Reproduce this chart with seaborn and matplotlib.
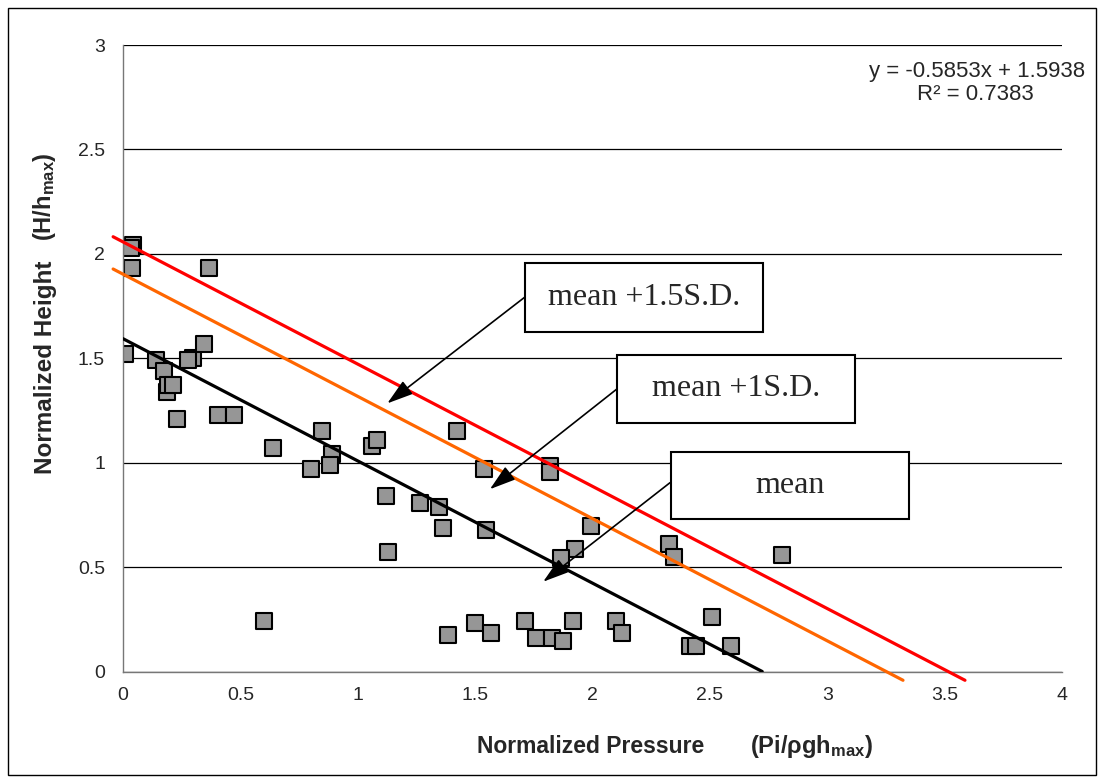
import numpy as np
import pandas as pd
import matplotlib
matplotlib.use("Agg")
import matplotlib.pyplot as plt
from matplotlib.patches import Rectangle
import seaborn as sns

# Data
pressure = [0.044, 0.034, 0.040, 0.368, 0.009, 0.139, 0.175, 0.186, 0.192, 0.212,
            0.229, 0.297, 0.278, 0.345, 0.406, 0.474, 0.640, 0.846, 0.889, 0.882,
            0.799, 1.059, 1.080, 1.421, 1.537, 1.819, 1.819, 1.120, 1.265, 1.347,
            1.364, 1.545, 1.127, 1.992, 1.925, 1.864, 1.385, 1.499, 1.567, 1.712,
            1.759, 1.826, 1.873, 1.918, 2.100, 2.124, 2.327, 2.348, 2.808, 2.510,
            2.415, 2.443, 2.592, 0.602]
height = [2.04, 2.03, 1.93, 1.93, 1.52, 1.49, 1.44, 1.34, 1.37, 1.37,
          1.21, 1.50, 1.49, 1.57, 1.23, 1.23, 1.07, 1.15, 1.04, 0.99,
          0.97, 1.08, 1.11, 1.15, 0.97, 0.985, 0.957, 0.84, 0.805, 0.79,
          0.686, 0.678, 0.574, 0.697, 0.585, 0.542, 0.175, 0.234, 0.183, 0.243,
          0.159, 0.159, 0.148, 0.243, 0.243, 0.183, 0.611, 0.550, 0.558, 0.260,
          0.122, 0.122, 0.122, 0.242]

# trendline and offsets
slope = -0.5853
intercept = 1.5938
r_squared = 0.7383
sd = 0.309
sd_factors = [1.0, 1.5]
sd_colors = ["#FF6600", "#FF0000"]

box_labels = ["mean +1.5S.D.", "mean +1S.D.", "mean"]

df = pd.DataFrame({"pressure": pressure, "height": height})

sns.set_style("white")
plt.rcParams["font.family"] = ["Liberation Sans", "DejaVu Sans"]
plt.rcParams["mathtext.fontset"] = "custom"
plt.rcParams["mathtext.rm"] = "Liberation Sans:bold"
plt.rcParams["mathtext.default"] = "rm"

fig, ax = plt.subplots(figsize=(11.02, 7.83), dpi=100)
fig.subplots_adjust(left=0.1116, right=0.9637, bottom=0.1424, top=0.9425)

sns.scatterplot(data=df, x="pressure", y="height", marker="s", s=135,
                color="#969696", edgecolor="black", linewidth=1.5, ax=ax, zorder=2)

# mean line (fit)
x_end = -intercept / slope
ax.plot([0, x_end], [intercept, 0], color="black", lw=2.3, zorder=3)

# offset lines, drawn a little past the axes like the original shapes
for k, c in zip(sd_factors, sd_colors):
    b = intercept + k * sd
    x0 = -0.042
    x1 = (b + 0.042) / -slope
    ax.plot([x0, x1], [b + slope * x0, b + slope * x1], color=c, lw=2.3,
            zorder=3, clip_on=False)

ax.set_xlim(0, 4)
ax.set_ylim(0, 3)
ax.set_xticks(np.arange(0, 4.01, 0.5))
ax.set_yticks(np.arange(0, 3.01, 0.5))
ax.set_xticklabels(["0", "0.5", "1", "1.5", "2", "2.5", "3", "3.5", "4"])
ax.set_yticklabels(["0", "0.5", "1", "1.5", "2", "2.5", "3"])
ax.tick_params(axis="both", labelsize=14, direction="out", length=6,
               width=1, color="#555555")
ax.tick_params(axis="y", pad=7)
ax.tick_params(axis="x", pad=5)

ax.yaxis.grid(True, color="black", lw=0.9)
ax.xaxis.grid(False)
ax.set_axisbelow(True)
for side in ["top", "right"]:
    ax.spines[side].set_visible(False)
for side in ["left", "bottom"]:
    ax.spines[side].set_color("#777777")
    ax.spines[side].set_linewidth(1)

ax.set_xlabel("Normalized Pressure", fontsize=16.5, fontweight="bold", va="center")
ax.xaxis.set_label_coords(0.498, -0.119)
ax.set_ylabel("Normalized Height", fontsize=17.5, fontweight="bold", va="center")
ax.yaxis.set_label_coords(-0.083, 0.486)

fig.text(811 / 1102, 1 - 746 / 783, "(Pi/ρgh$_{max}$)", fontsize=17,
         fontweight="bold", ha="center", va="center")
fig.text(45 / 1102, 1 - 197 / 783, "(H/h$_{max}$)", fontsize=17,
         fontweight="bold", ha="center", va="center", rotation=90)

# trendline equation
ax.text(3.64, 2.871, f"y = {slope:.4f}x + {intercept:.4f}", fontsize=16,
        ha="center", va="center", clip_on=False)
ax.text(3.633, 2.761, f"R² = {r_squared:.4f}", fontsize=16,
        ha="center", va="center", clip_on=False)

# callout boxes with arrows
boxes = [(1.712, 1.626, 2.726, 1.956), (2.104, 1.190, 3.118, 1.516),
         (2.334, 0.730, 3.348, 1.051)]
text_x = [2.219, 2.611, 2.841]
arrows = [((1.712, 1.793), (1.126, 1.284)), ((2.103, 1.352), (1.563, 0.873)),
          ((2.330, 0.904), (1.790, 0.430))]
for (bx0, by0, bx1, by1), tx, (start, tip), lab in zip(boxes, text_x, arrows, box_labels):
    ax.add_patch(Rectangle((bx0, by0), bx1 - bx0, by1 - by0, facecolor="white",
                           edgecolor="black", lw=1.5, zorder=5))
    ax.text(tx, (by0 + by1) / 2, lab, fontsize=23, family="Liberation Serif",
            ha="center", va="center", zorder=6)
    ax.annotate("", xy=tip, xytext=start, zorder=4,
                arrowprops=dict(arrowstyle="-|>,head_length=0.8,head_width=0.25",
                                color="black", lw=1.2, mutation_scale=20,
                                shrinkA=0, shrinkB=0))

# outer chart border
fig.patches.append(Rectangle((0.0073, 0.0102), 0.9873, 0.9796, transform=fig.transFigure,
                             fill=False, edgecolor="black", lw=1))

fig.savefig("out.png", dpi=100)
